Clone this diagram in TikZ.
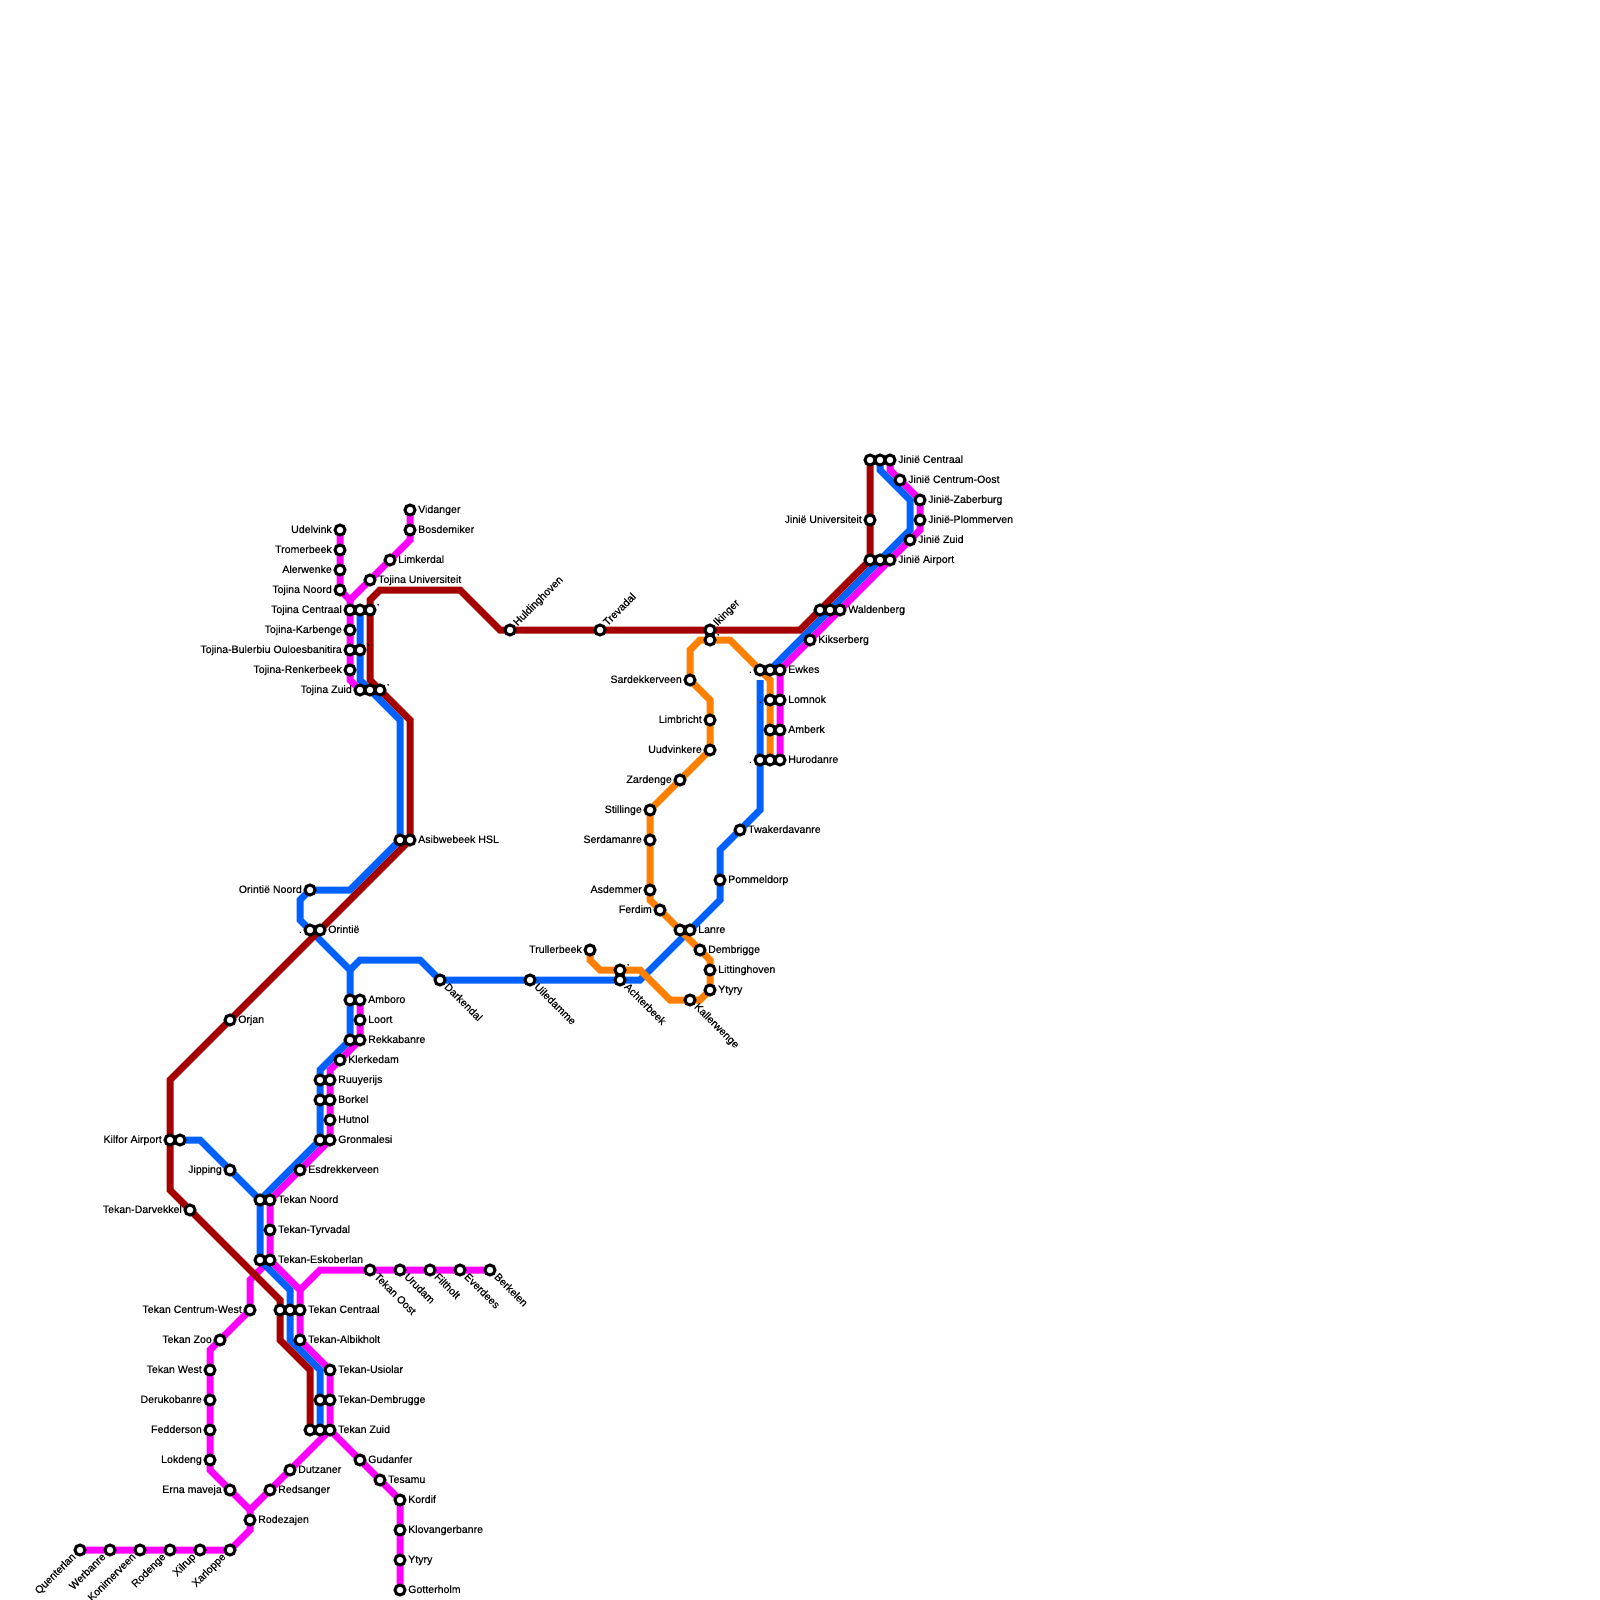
\documentclass[tikz,border=0pt]{standalone}
\usepackage{fontspec}
\setmainfont[FakeBold=0.3]{Liberation Sans}
\usetikzlibrary{backgrounds}
\definecolor{cM}{RGB}{255,0,255}
\definecolor{cB}{RGB}{0,97,255}
\definecolor{cR}{RGB}{165,0,0}
\definecolor{cO}{RGB}{255,128,0}
\tikzset{
  stn/.style={circle,draw=black,fill=white,line width=3pt,minimum size=10pt,inner sep=0pt},
  txt/.style={inner sep=0pt,font=\fontsize{10.6}{12}\selectfont,text=black},
  lineM/.style={draw=cM,line width=7pt},
  lineB/.style={draw=cB,line width=7pt},
  lineR/.style={draw=cR,line width=7pt},
  lineO/.style={draw=cO,line width=7pt}
}
% plain station, and stations with a label right / left / up-right / down-left / down-right
\newcommand{\stP}[2]{\node[stn] (#1) at (#2) {};}
\newcommand{\stR}[3]{\node[stn] (#1) at (#2) {};\node[txt,anchor=mid west] (#1-t) at ([xshift=8pt,yshift=-.3pt]#1.center) {#3};}
\newcommand{\stL}[3]{\node[stn] (#1) at (#2) {};\node[txt,anchor=mid east] (#1-t) at ([xshift=-8pt,yshift=-.3pt]#1.center) {#3};}
\newcommand{\stU}[3]{\node[stn] (#1) at (#2) {};\node[txt,anchor=mid west,rotate=45] (#1-t) at ([xshift=5.5pt,yshift=5.5pt]#1.center) {#3};}
\newcommand{\stDL}[3]{\node[stn] (#1) at (#2) {};\node[txt,anchor=mid east,rotate=45] (#1-t) at ([xshift=-5.5pt,yshift=-5.5pt]#1.center) {#3};}
\newcommand{\stDR}[3]{\node[stn] (#1) at (#2) {};\node[txt,anchor=mid west,rotate=-45] (#1-t) at ([xshift=5.5pt,yshift=-5.5pt]#1.center) {#3};}
\begin{document}
\begin{tikzpicture}[x=10pt,y=-10pt]
\useasboundingbox (0,0) rectangle (160,160);
% north-west
\stR{vidanger}{41,51}{Vidanger}
\stR{bosdemiker}{41,53}{Bosdemiker}
\stR{limkerdal}{39,56}{Limkerdal}
\stR{tojuni}{37,58}{Tojina Universiteit}
\stL{udelvink}{34,53}{Udelvink}
\stL{tromerbeek}{34,55}{Tromerbeek}
\stL{alerwenke}{34,57}{Alerwenke}
\stL{tojnoord}{34,59}{Tojina Noord}
\stL{tojcen}{35,61}{Tojina Centraal}
\stP{tojcenB}{36,61}
\stU{tojcenR}{37,61}{.}
\stL{karbenge}{35,63}{Tojina-Karbenge}
\stL{bulerbiu}{35,65}{Tojina-Bulerbiu Ouloesbanitira}
\stU{bulerbiuB}{36,65}{.}
\stL{renkerbeek}{35,67}{Tojina-Renkerbeek}
\stL{tojzuid}{36,69}{Tojina Zuid}
\stP{tojzuidB}{37,69}
\stU{tojzuidR}{38,69}{.}
% middle
\stP{asibB}{40,84}
\stR{asib}{41,84}{Asibwebeek HSL}
\stL{orinoord}{31,89}{Orintië Noord}
\stL{oriB}{31,93}{.}
\stR{ori}{32,93}{Orintië}
\stR{orjan}{23,102}{Orjan}
\stP{amboroB}{35,100}
\stR{amboro}{36,100}{Amboro}
\stR{loort}{36,102}{Loort}
\stP{rekkaB}{35,104}
\stR{rekka}{36,104}{Rekkabanre}
\stR{klerkedam}{34,106}{Klerkedam}
\stP{ruuyB}{32,108}
\stR{ruuy}{33,108}{Ruuyerijs}
\stP{borkelB}{32,110}
\stR{borkel}{33,110}{Borkel}
\stR{hutnol}{33,112}{Hutnol}
\stP{gronB}{32,114}
\stR{gron}{33,114}{Gronmalesi}
\stR{esdrek}{30,117}{Esdrekkerveen}
\stL{kilfor}{17,114}{Kilfor Airport}
\stP{kilforB}{18,114}
\stL{jipping}{23,117}{Jipping}
\stP{tnoordB}{26,120}
\stR{tnoord}{27,120}{Tekan Noord}
\stL{darvekkel}{19,121}{Tekan-Darvekkel}
\stR{tyrvadal}{27,123}{Tekan-Tyrvadal}
\stP{eskoB}{26,126}
\stR{esko}{27,126}{Tekan-Eskoberlan}
\stDR{toost}{37,127}{Tekan Oost}
\stDR{urudam}{40,127}{Urudam}
\stDR{filtholt}{43,127}{Filtholt}
\stDR{everdees}{46,127}{Everdees}
\stDR{berkelen}{49,127}{Berkelen}
\stL{tcwest}{25,131}{Tekan Centrum-West}
\stP{tcenR}{28,131}
\stP{tcenB}{29,131}
\stR{tcen}{30,131}{Tekan Centraal}
\stL{tzoo}{22,134}{Tekan Zoo}
\stR{albik}{30,134}{Tekan-Albikholt}
\stL{twest}{21,137}{Tekan West}
\stR{usiolar}{33,137}{Tekan-Usiolar}
\stL{deruko}{21,140}{Derukobanre}
\stP{dembB}{32,140}
\stR{demb}{33,140}{Tekan-Dembrugge}
\stL{fedder}{21,143}{Fedderson}
\stP{tzuidR}{31,143}
\stP{tzuidB}{32,143}
\stR{tzuid}{33,143}{Tekan Zuid}
\stL{lokdeng}{21,146}{Lokdeng}
\stR{gudanfer}{36,146}{Gudanfer}
\stR{dutzaner}{29,147}{Dutzaner}
\stR{tesamu}{38,148}{Tesamu}
\stL{erna}{23,149}{Erna maveja}
\stR{redsanger}{27,149}{Redsanger}
\stR{kordif}{40,150}{Kordif}
\stR{rodezajen}{25,152}{Rodezajen}
\stR{klovanger}{40,153}{Klovangerbanre}
\stDL{quenterlan}{8,155}{Quenterlan}
\stDL{werbanre}{11,155}{Werbanre}
\stDL{konimer}{14,155}{Konimerveen}
\stDL{rodenge}{17,155}{Rodenge}
\stDL{xilrup}{20,155}{Xilrup}
\stDL{xarloppe}{23,155}{Xarloppe}
\stR{ytyryS}{40,156}{Ytyry}
\stR{gotter}{40,159}{Gotterholm}
% east
\stU{hulding}{51,63}{Huldinghoven}
\stU{trevadal}{60,63}{Trevadal}
\stU{ikinger}{71,63}{Ikinger}
\stU{ikingerO}{71,64}{.}
\stL{sardek}{69,68}{Sardekkerveen}
\stL{limbricht}{71,72}{Limbricht}
\stL{uudvink}{71,75}{Uudvinkere}
\stL{zardenge}{68,78}{Zardenge}
\stL{stillinge}{65,81}{Stillinge}
\stL{serdam}{65,84}{Serdamanre}
\stL{asdemmer}{65,89}{Asdemmer}
\stL{ferdim}{66,91}{Ferdim}
\stP{lanreO}{68,93}
\stR{lanre}{69,93}{Lanre}
\stR{dembrigge}{70,95}{Dembrigge}
\stR{litting}{71,97}{Littinghoven}
\stR{ytyry}{71,99}{Ytyry}
\stDR{kaller}{69,100}{Kallerwenge}
\stL{truller}{59,95}{Trullerbeek}
\stU{achterO}{62,97}{.}
\stDR{achter}{62,98}{Achterbeek}
\stDR{uiled}{53,98}{Uiledamme}
\stDR{darkendal}{44,98}{Darkendal}
\stR{pommel}{72,88}{Pommeldorp}
\stR{twaker}{74,83}{Twakerdavanre}
\stL{ewkesB}{76,67}{.}
\stP{ewkesO}{77,67}
\stR{ewkes}{78,67}{Ewkes}
\stL{lomnokO}{77,70}{.}
\stR{lomnok}{78,70}{Lomnok}
\stP{amberkO}{77,73}
\stR{amberk}{78,73}{Amberk}
\stL{huroB}{76,76}{.}
\stP{huroO}{77,76}
\stR{huro}{78,76}{Hurodanre}
\stR{kikser}{81,64}{Kikserberg}
\stP{waldR}{82,61}
\stP{waldB}{83,61}
\stR{wald}{84,61}{Waldenberg}
\stP{airR}{87,56}
\stP{airB}{88,56}
\stR{air}{89,56}{Jinië Airport}
\stL{juni}{87,52}{Jinië Universiteit}
\stP{jcenR}{87,46}
\stP{jcenB}{88,46}
\stR{jcen}{89,46}{Jinië Centraal}
\stR{jcoost}{90,48}{Jinië Centrum-Oost}
\stR{jzaber}{92,50}{Jinië-Zaberburg}
\stR{jplom}{92,52}{Jinië-Plommerven}
\stR{jzuid}{91,54}{Jinië Zuid}
\begin{scope}[on background layer]
% magenta lines
\path[lineM] (vidanger.center) -- (41,54) -- (35,60) -- (35,68) -- (tojzuid.center);
\path[lineM] (udelvink.center) -- (tojnoord.center) -- (35,60);
\path[lineM] (amboro.center) -- (rekka.center) -- (33,107) -- (gron.center) -- (tnoord.center) -- (esko.center) -- (30,129) -- (albik.center) -- (usiolar.center) -- (tzuid.center) -- (kordif.center) -- (gotter.center);
\path[lineM] (30,129) -- (32,127) -- (berkelen.center);
\path[lineM] (tzuid.center) -- (25,151) -- (25,153) -- (xarloppe.center) -- (quenterlan.center);
\path[lineM] (25,151) -- (21,147) -- (21,135) -- (tcwest.center) -- (25,128) -- (esko.center);
\path[lineM] (jcen.center) -- (89,47) -- (jzaber.center) -- (92,53) -- (ewkes.center) -- (huro.center);
% blue lines
\path[lineB] (tojcenB.center) -- (36,68) -- (40,72) -- (asibB.center) -- (35,89) -- (orinoord.center) -- (30,90) -- (30,92) -- (oriB.center) -- (35,97) -- (rekkaB.center) -- (32,107) -- (gronB.center) -- (tnoordB.center) -- (eskoB.center) -- (29,129) -- (29,134) -- (32,137) -- (tzuidB.center);
\path[lineB] (35,97) -- (36,96) -- (42,96) -- (darkendal.center) -- (64,98) -- (72,90) -- (72,85) -- (76,81) -- (76,68);
\path[lineB] (kilforB.center) -- (20,114) -- (tnoordB.center);
\path[lineB] (ewkesO.center) -- (91,53) -- (91,50) -- (88,47) -- (jcenB.center);
% red line
\path[lineR] (tojcenR.center) -- (37,68) -- (41,72) -- (asib.center) -- (17,108) -- (17,119) -- (28,130) -- (28,134) -- (31,137) -- (tzuidR.center);
\path[lineR] (tojcenR.center) -- (37,60) -- (38,59) -- (46,59) -- (50,63) -- (80,63) -- (airR.center) -- (jcenR.center);
% orange line
\path[lineO] (huroO.center) -- (77,68) -- (73,64) -- (70,64) -- (69,65) -- (sardek.center) -- (71,70) -- (uudvink.center) -- (stillinge.center) -- (65,90) -- (71,96) -- (ytyry.center) -- (70,100) -- (67,100) -- (64,97) -- (60,97) -- (59,96) -- (truller.center);
\end{scope}
\end{tikzpicture}
\end{document}
